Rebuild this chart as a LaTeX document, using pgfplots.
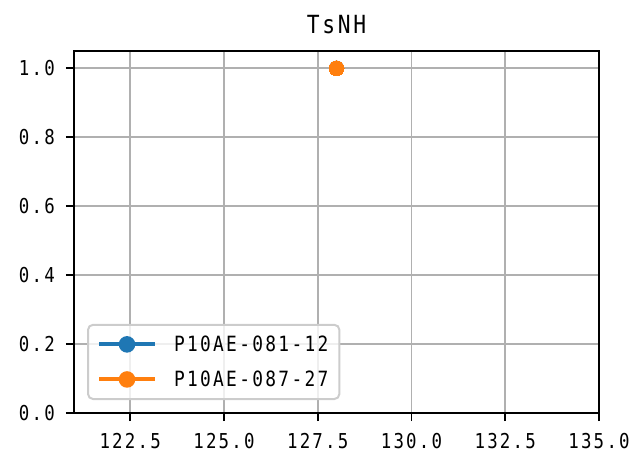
\documentclass[border=0pt]{standalone}
\usepackage{pgfplots}
\pgfplotsset{compat=1.18}
\usepackage{fontspec}
\setmainfont{DejaVu Sans Mono}[FakeStretch=0.85,LetterSpace=11]
\definecolor{tabblue}{HTML}{1F77B4}
\definecolor{taborange}{HTML}{FF7F0E}
\definecolor{gridgray}{HTML}{B0B0B0}
\definecolor{legedge}{HTML}{CCCCCC}
\begin{document}
\begin{tikzpicture}
\begin{axis}[
    name=ax,
    scale only axis,
    width=525pt, height=362pt,
    xmin=121, xmax=135, ymin=0, ymax=1.05,
    xtick={122.5,125,127.5,130,132.5,135},
    ytick={0,0.2,0.4,0.6,0.8,1.0},
    xtick pos=bottom, ytick pos=left,
    tick align=outside,
    major tick length=8pt,
    every tick/.style={black, line width=1.6pt},
    axis line style={line width=1.6pt},
    grid=major,
    major grid style={gridgray, line width=1.6pt},
    /pgf/number format/assume math mode=true,
    /pgf/number format/fixed,
    /pgf/number format/fixed zerofill,
    /pgf/number format/precision=1,
    tick label style={font=\fontsize{20.5}{20.5}\selectfont},
    yticklabel style={anchor=east, inner sep=0pt, xshift=-11pt},
    xticklabel style={anchor=north, inner sep=0pt, yshift=-12pt},
    title={TsNH},
    title style={font=\fontsize{25}{25}\selectfont, at={(0.5,1)}, anchor=base, inner sep=0pt, yshift=11pt},
    legend style={
        at={(0.0248,0.0359)}, anchor=south west,
        draw=legedge, line width=2pt, rounded corners=5pt,
        fill=white, fill opacity=0.8, text opacity=1,
        font=\fontsize{21}{21}\selectfont,
        nodes={inner sep=2pt},
        inner xsep=9pt, inner ysep=9pt, row sep=14pt, column sep=15pt,
    },
    legend cell align=left,
    legend image code/.code={
        \draw[line width=4pt, fill opacity=1, draw opacity=1] (0pt,0pt) -- (56pt,0pt);
        \fill[fill opacity=1] (28pt,0pt) circle (6.5pt);
    },
]
\addplot[tabblue, line width=3.5pt, mark=*, mark size=7.5pt, mark options={draw=tabblue, fill=tabblue, line width=0pt}]
    coordinates {(128,1.0)};
\addlegendentry{P10AE-081-12}
\addplot[taborange, line width=3.5pt, mark=*, mark size=7.5pt, mark options={draw=taborange, fill=taborange, line width=0pt}]
    coordinates {(128,1.0)};
\addlegendentry{P10AE-087-27}
\end{axis}
\pgfresetboundingbox
\path[use as bounding box] ([shift={(-74pt,-42pt)}]ax.south west) rectangle ([shift={(35pt,51pt)}]ax.north east);
\end{tikzpicture}
\end{document}
